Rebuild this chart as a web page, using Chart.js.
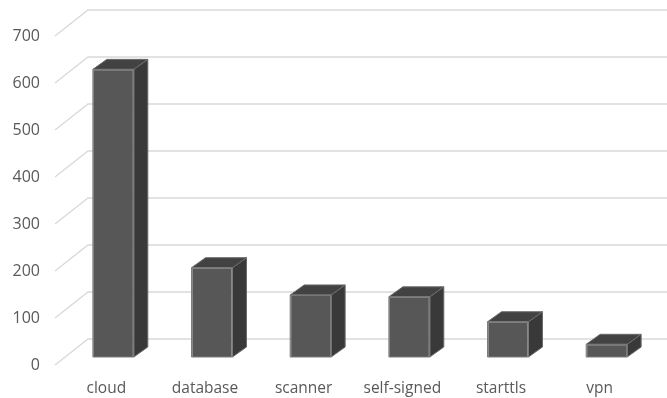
<!DOCTYPE html>
<html>
<head>
<meta charset="utf-8">
<title>Certificate categories</title>
<script src="https://cdn.jsdelivr.net/npm/chart.js@4/dist/chart.umd.min.js"></script>
<style>
  html, body { margin: 0; padding: 0; background: #ffffff; }
  #wrap { width: 667px; height: 398px; }
</style>
</head>
<body>
<div id="wrap"><canvas id="chart" width="667" height="398"></canvas></div>
<script>
// Categories and counts
const categories = ["cloud", "database", "scanner", "self-signed", "starttls", "vpn"];
const counts = [612, 190, 132, 128, 75, 27];
const yTicks = [0, 100, 200, 300, 400, 500, 600, 700];

// 3D projection offsets (pixels) relative to the plane of the bar fronts
const DEPTH = { dx: 14, dy: -10 };      // bar depth
const BACK = { dx: 24, dy: -18 };       // back wall
const FRONT = { dx: -9, dy: 8 };        // floor front edge

const INK = "#595959";

const wall3d = {
  id: "wall3d",
  beforeDatasetsDraw(chart) {
    const { ctx, chartArea, scales } = chart;
    const y = scales.y;
    ctx.save();
    ctx.strokeStyle = "#d9d9d9";
    ctx.lineWidth = 1.3;
    yTicks.forEach(v => {
      const py = y.getPixelForValue(v);
      const bx = chartArea.left + BACK.dx, by = py + BACK.dy;
      ctx.beginPath();
      ctx.moveTo(chartArea.left + FRONT.dx, py + FRONT.dy);
      ctx.lineTo(bx, by);
      ctx.lineTo(chart.width, by);
      ctx.stroke();
    });
    ctx.restore();
  },
  afterDatasetsDraw(chart) {
    const { ctx } = chart;
    const meta = chart.getDatasetMeta(0);
    ctx.save();
    ctx.lineWidth = 1;
    ctx.lineJoin = "round";
    meta.data.forEach(bar => {
      const p = bar.getProps(["x", "y", "base", "width"], true);
      const l = p.x - p.width / 2, r = p.x + p.width / 2;
      const t = p.y, b = p.base;
      // side face
      ctx.beginPath();
      ctx.moveTo(r, t);
      ctx.lineTo(r + DEPTH.dx, t + DEPTH.dy);
      ctx.lineTo(r + DEPTH.dx, b + DEPTH.dy);
      ctx.lineTo(r, b);
      ctx.closePath();
      ctx.fillStyle = "#393939";
      ctx.fill();
      ctx.strokeStyle = "#6a6a6a";
      ctx.stroke();
      // top face
      ctx.beginPath();
      ctx.moveTo(l, t);
      ctx.lineTo(l + DEPTH.dx, t + DEPTH.dy);
      ctx.lineTo(r + DEPTH.dx, t + DEPTH.dy);
      ctx.lineTo(r, t);
      ctx.closePath();
      ctx.fillStyle = "#424242";
      ctx.fill();
      ctx.stroke();
      // redraw front outline
      ctx.strokeStyle = "#7c7c7c";
      ctx.strokeRect(l, t, r - l, b - t);
    });
    ctx.restore();
  }
};

new Chart(document.getElementById("chart"), {
  type: "bar",
  data: {
    labels: categories,
    datasets: [{
      data: counts,
      backgroundColor: "#575757",
      borderColor: "#7c7c7c",
      borderWidth: 1,
      categoryPercentage: 1,
      barPercentage: 0.415
    }]
  },
  options: {
    responsive: false,
    devicePixelRatio: 1,
    animation: false,
    layout: { padding: { top: 28, right: 11, left: 0, bottom: 0 } },
    plugins: { legend: { display: false }, tooltip: { enabled: false } },
    scales: {
      x: {
        grid: { display: false, drawTicks: false },
        border: { display: false },
        ticks: {
          color: INK,
          font: { family: "'Open Sans', sans-serif", size: 15.5 },
          padding: 22,
          labelOffset: -7,
          maxRotation: 0
        },
        afterFit(scale) {
          scale.height = 41;
          scale.paddingLeft = 0;
          scale.paddingRight = 0;
        }
      },
      y: {
        min: 0,
        max: 700,
        afterBuildTicks(scale) { scale.ticks = yTicks.map(v => ({ value: v })); },
        grid: { display: false, drawTicks: false },
        border: { display: false },
        ticks: {
          color: INK,
          font: { family: "'Open Sans', sans-serif", size: 16 },
          padding: 24,
          labelOffset: 8
        },
        afterFit(scale) {
          scale.width = 64;
          scale.paddingTop = 0;
          scale.paddingBottom = 0;
        }
      }
    }
  },
  plugins: [wall3d]
});
</script>
</body>
</html>
